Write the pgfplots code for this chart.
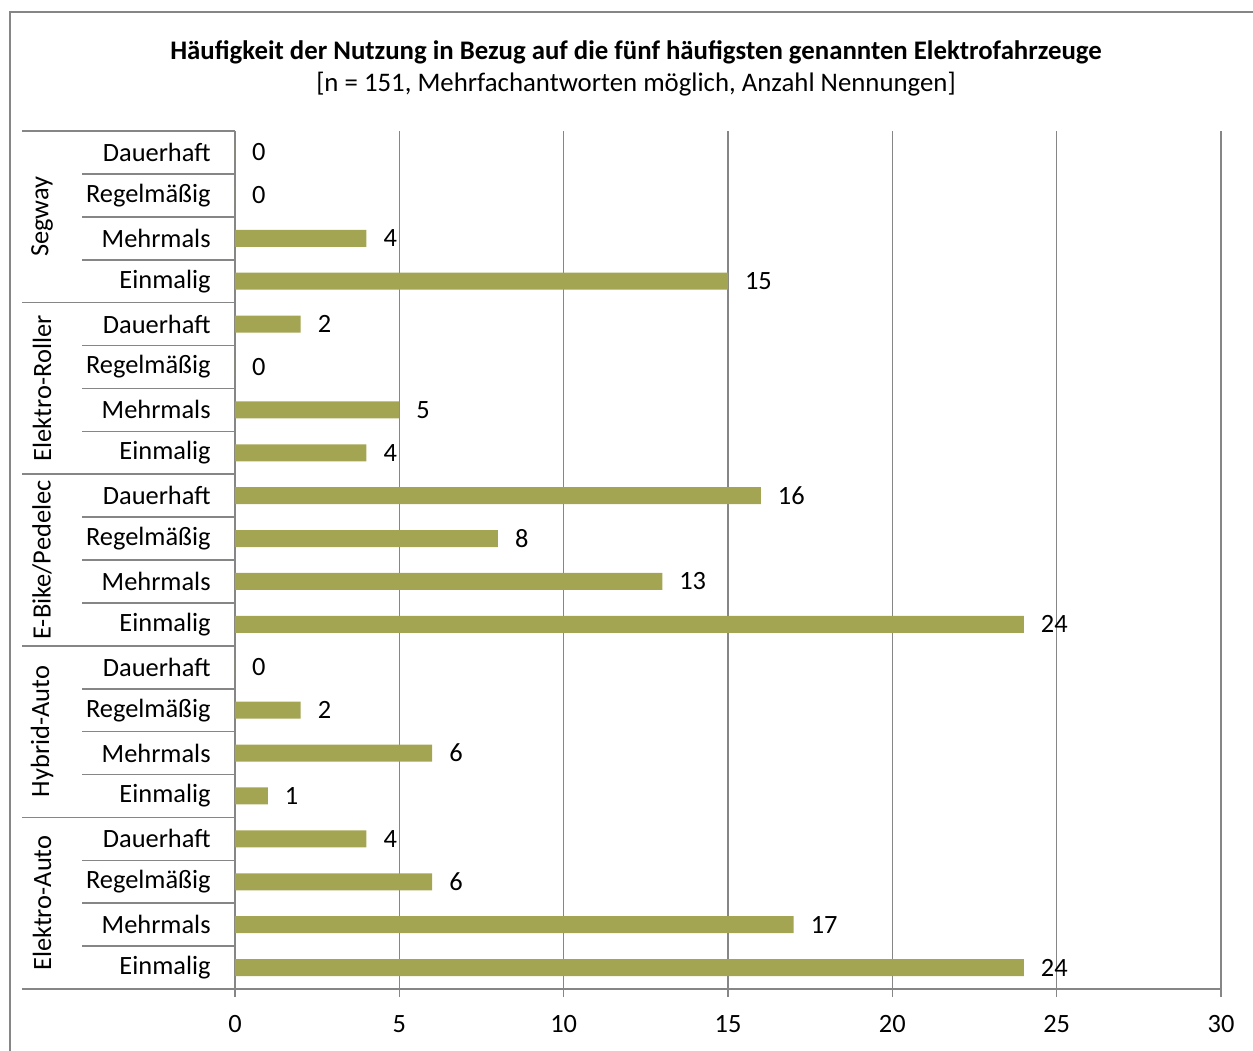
\documentclass[border=0pt]{standalone}
\usepackage{pgfplots}
\pgfplotsset{compat=1.18}
\usepackage{fontspec}
\setmainfont{Carlito}
\definecolor{barc}{RGB}{164,165,83}
\definecolor{linec}{RGB}{134,134,134}
\newcommand{\lf}{\fontsize{13.2}{15.8}\selectfont}
\begin{document}
\begin{tikzpicture}
\useasboundingbox (0pt,0pt) rectangle (626.5pt,-525pt);
\draw[linec, line width=0.8pt] (5pt,-530pt) -- (5pt,-6pt) -- (630pt,-6pt);
\node[font=\fontsize{13.4}{16}\selectfont\bfseries] at (318pt,-26pt) {Häufigkeit der Nutzung in Bezug auf die fünf häufigsten genannten Elektrofahrzeuge};
\node[font=\fontsize{13.4}{16}\selectfont] at (318pt,-42pt) {[n = 151, Mehrfachantworten möglich, Anzahl Nennungen]};
\begin{axis}[
  at={(117.5pt,-494.5pt)}, anchor=south west,
  scale only axis, width=493pt, height=429pt,
  xmin=0, xmax=30, ymin=-0.5, ymax=19.5,
  axis x line*=bottom, axis y line*=left,
  axis line style={linec, line width=0.8pt, -},
  xtick={0,5,...,30},
  xmajorgrids, major grid style={linec, line width=0.8pt},
  tick align=outside, major tick length=4pt,
  xtick style={linec, line width=0.8pt},
  ytick={0,...,19},
  ytick style={draw=none},
  yticklabels={Einmalig,Mehrmals,Regelmäßig,Dauerhaft,Einmalig,Mehrmals,Regelmäßig,Dauerhaft,Einmalig,Mehrmals,Regelmäßig,Dauerhaft,Einmalig,Mehrmals,Regelmäßig,Dauerhaft,Einmalig,Mehrmals,Regelmäßig,Dauerhaft},
  yticklabel style={font=\lf, inner sep=0pt, xshift=-8pt},
  xticklabel style={font=\lf, inner sep=0pt, yshift=-9pt},
  /pgf/number format/assume math mode=true,
  clip=false,
]
\addplot[xbar, fill=barc, draw=none, bar width=8.5pt,
  nodes near coords, every node near coord/.append style={font=\lf, anchor=west, xshift=5pt, black}]
  coordinates {(24,0) (17,1) (6,2) (4,3) (1,4) (6,5) (2,6) (0,7) (24,8) (13,9) (8,10) (16,11) (4,12) (5,13) (0,14) (2,15) (15,16) (4,17) (0,18) (0,19)};
\end{axis}
\begin{scope}[x=0.5pt,y=-0.5pt]
\foreach \i in {1,2,3, 5,6,7, 9,10,11, 13,14,15, 17,18,19} {
  \draw[linec, line width=0.8pt] (82,{131+\i*42.9}) -- (235,{131+\i*42.9});
}
\foreach \i in {0,4,8,12,16,20} {
  \draw[linec, line width=0.8pt] (22,{131+\i*42.9}) -- (235,{131+\i*42.9});
}
\node[font=\lf, rotate=90] at (42,216.8) {Segway};
\node[font=\lf, rotate=90] at (42,388.4) {Elektro-Roller};
\node[font=\lf, rotate=90] at (42,560) {E-Bike/Pedelec};
\node[font=\lf, rotate=90] at (42,731.6) {Hybrid-Auto};
\node[font=\lf, rotate=90] at (42,903.2) {Elektro-Auto};
\end{scope}
\end{tikzpicture}
\end{document}
